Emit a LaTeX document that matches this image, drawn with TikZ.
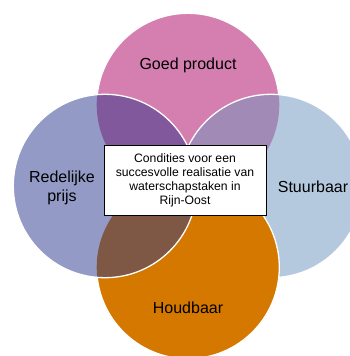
\documentclass[tikz,border=0pt]{standalone}
\usepackage{fontspec}
\setmainfont{Liberation Sans}
\usetikzlibrary{positioning}
\definecolor{goedkleur}{HTML}{D47FB0}
\definecolor{stuurkleur}{HTML}{B5C9DE}
\definecolor{houdkleur}{HTML}{D47800}
\definecolor{prijskleur}{HTML}{939AC6}
\definecolor{mauve}{HTML}{A18AB6}
\definecolor{paars}{HTML}{80589B}
\definecolor{bruin}{HTML}{7F5745}

\begin{document}
\begin{tikzpicture}[x=1pt,y=-1pt,
	rand/.style={draw=white,line width=1.3pt},
	lbl/.style={font=\fontsize{16}{19}\selectfont,align=center,inner sep=0pt},
	kader/.style={draw=black,fill=white,line width=0.8pt,minimum width=162pt,minimum height=70pt,
		align=center,inner sep=0pt,font=\fontsize{12.2}{13.9}\selectfont}]
	\useasboundingbox (0,0) rectangle (350,356);
	\clip (0,0) rectangle (350,356);
	\coordinate (cg) at (188,104.6);
	\coordinate (cs) at (271,186);
	\coordinate (ch) at (188,267.4);
	\coordinate (cr) at (105,186);
	% goed product
	\fill[goedkleur] (cg) circle (91.3);
	\draw[rand] (cg) circle (91.3);
	% stuurbaar
	\fill[stuurkleur] (cs) circle (91.7);
	\begin{scope}
		\clip (cg) circle (91.3);
		\fill[mauve] (cs) circle (91.7);
	\end{scope}
	\draw[rand] (cs) circle (91.7);
	% houdbaar
	\fill[houdkleur] (ch) circle (91.3);
	\draw[rand] (ch) circle (91.3);
	% redelijke prijs
	\fill[prijskleur] (cr) circle (91.7);
	\begin{scope}
		\clip (cr) circle (91.7);
		\fill[paars] (cg) circle (91.3);
		\fill[bruin] (ch) circle (91.3);
	\end{scope}
	\draw[rand] (cr) circle (91.7);

	\node[kader] (box) at (185,180) {Condities voor een\\succesvolle realisatie van\\waterschapstaken in\\Rijn-Oost};
	\node[lbl] (goed) at (188,65) {Goed product};
	\node[lbl] (stuur) at (313,187) {Stuurbaar};
	\node[lbl] (houd) at (188,308) {Houdbaar};
	\node[lbl] (prijs) at (62,188) {Redelijke\\prijs};
\end{tikzpicture}
\end{document}
